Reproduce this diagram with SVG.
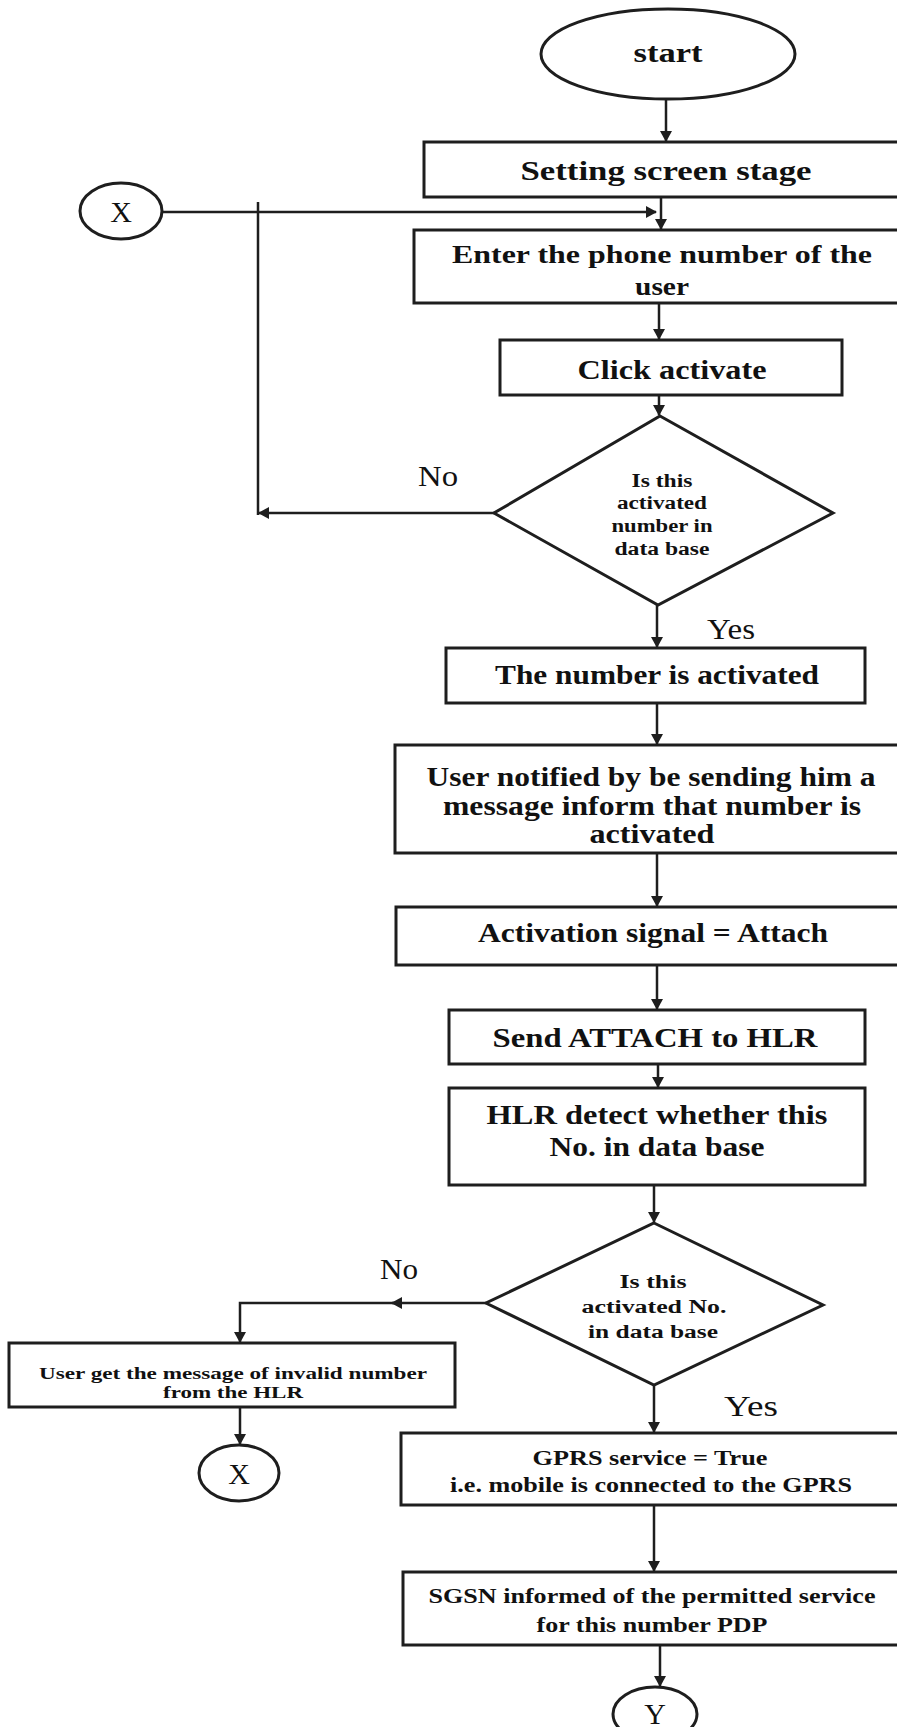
<svg xmlns="http://www.w3.org/2000/svg" width="897" height="1727" viewBox="0 0 897 1727">
<defs>
<marker id="ah" markerWidth="12" markerHeight="12" refX="10" refY="6" orient="auto" markerUnits="userSpaceOnUse">
<path d="M0,0 L11,6 L0,12 Z" fill="#1e1e1e"/>
</marker>
<style>
.sh{fill:#fff;stroke:#1e1e1e;stroke-width:3}
.cn{fill:none;stroke:#1e1e1e;stroke-width:2.5}
.ca{fill:none;stroke:#1e1e1e;stroke-width:2.5;marker-end:url(#ah)}
text{font-family:"Liberation Serif","Times New Roman",serif;fill:#111;text-anchor:middle;font-weight:bold}
.b{font-size:28px}
.b2{font-size:26px}
.m{font-size:22px}
.d{font-size:18px}
.s{font-size:17px}
.lb{font-size:30px;font-weight:normal}
.cx{font-size:30px;font-weight:normal}
</style>
</defs>
<rect width="897" height="1727" fill="#fff"/>

<g id="connectors">
<path class="ca" d="M666,98 V141"/>
<path class="ca" d="M661,197 V229"/>
<path class="ca" d="M163,212 H656"/>
<path class="cn" d="M258,202 V515"/>
<path class="ca" d="M494,513 H259"/>
<path class="ca" d="M659,303 V339"/>
<path class="ca" d="M659,395 V415"/>
<path class="ca" d="M657,605 V647"/>
<path class="ca" d="M657,703 V744"/>
<path class="ca" d="M657,853 V906"/>
<path class="ca" d="M657,965 V1009"/>
<path class="ca" d="M658,1064 V1087"/>
<path class="ca" d="M654,1185 V1222"/>
<path class="ca" d="M486,1303 H392"/>
<path class="ca" d="M395,1303 H240 V1342"/>
<path class="ca" d="M240,1407 V1444"/>
<path class="ca" d="M654,1385 V1432"/>
<path class="ca" d="M654,1505 V1571"/>
<path class="ca" d="M660,1645 V1686"/>
</g>

<g id="start">
<ellipse class="sh" cx="668" cy="54" rx="127" ry="45"/>
<text class="b" x="668" y="62" textLength="69" lengthAdjust="spacingAndGlyphs">start</text>
</g>

<g id="setting">
<rect class="sh" x="424" y="142" width="480" height="55"/>
<text class="b" x="666" y="180" textLength="291" lengthAdjust="spacingAndGlyphs">Setting screen stage</text>
</g>

<g id="connX1">
<ellipse class="sh" cx="121" cy="211" rx="41" ry="28"/>
<text class="cx" x="121" y="222">X</text>
</g>

<g id="enter">
<rect class="sh" x="414" y="230" width="490" height="73"/>
<text class="b2" x="662" y="263" textLength="420" lengthAdjust="spacingAndGlyphs">Enter the phone number of the</text>
<text class="b2" x="662" y="295" textLength="54" lengthAdjust="spacingAndGlyphs">user</text>
</g>

<g id="click">
<rect class="sh" x="500" y="340" width="342" height="55"/>
<text class="b" x="672" y="379" textLength="189" lengthAdjust="spacingAndGlyphs">Click activate</text>
</g>

<g id="decision1">
<polygon class="sh" points="660,416 833,513 658,605 494,513"/>
<text class="d" x="662" y="487" textLength="61" lengthAdjust="spacingAndGlyphs">Is this</text>
<text class="d" x="662" y="509" textLength="90" lengthAdjust="spacingAndGlyphs">activated</text>
<text class="d" x="662" y="532" textLength="101" lengthAdjust="spacingAndGlyphs">number in</text>
<text class="d" x="662" y="555" textLength="95" lengthAdjust="spacingAndGlyphs">data base</text>
</g>
<text class="lb" x="438" y="486" textLength="40" lengthAdjust="spacingAndGlyphs">No</text>
<text class="lb" x="731" y="639" textLength="48" lengthAdjust="spacingAndGlyphs">Yes</text>

<g id="activated">
<rect class="sh" x="446" y="648" width="419" height="55"/>
<text class="b" x="657" y="684" textLength="324" lengthAdjust="spacingAndGlyphs">The number is activated</text>
</g>

<g id="notified">
<rect class="sh" x="395" y="745" width="510" height="108"/>
<text class="b" x="651" y="786" textLength="449" lengthAdjust="spacingAndGlyphs">User notified by be sending him a</text>
<text class="b" x="652" y="815" textLength="418" lengthAdjust="spacingAndGlyphs">message inform that number is</text>
<text class="b" x="652" y="843" textLength="125" lengthAdjust="spacingAndGlyphs">activated</text>
</g>

<g id="signal">
<rect class="sh" x="396" y="907" width="510" height="58"/>
<text class="b" x="653" y="942" textLength="350" lengthAdjust="spacingAndGlyphs">Activation signal = Attach</text>
</g>

<g id="send">
<rect class="sh" x="449" y="1010" width="416" height="54"/>
<text class="b" x="655" y="1047" textLength="325" lengthAdjust="spacingAndGlyphs">Send ATTACH to HLR</text>
</g>

<g id="detect">
<rect class="sh" x="449" y="1088" width="416" height="97"/>
<text class="b" x="657" y="1124" textLength="341" lengthAdjust="spacingAndGlyphs">HLR detect whether  this</text>
<text class="b" x="657" y="1156" textLength="215" lengthAdjust="spacingAndGlyphs">No. in data base</text>
</g>

<g id="decision2">
<polygon class="sh" points="654,1223 823,1305 654,1385 486,1303"/>
<text class="d" x="653" y="1288" textLength="67" lengthAdjust="spacingAndGlyphs">Is this</text>
<text class="d" x="654" y="1313" textLength="145" lengthAdjust="spacingAndGlyphs">activated No.</text>
<text class="d" x="653" y="1338" textLength="130" lengthAdjust="spacingAndGlyphs">in data base</text>
</g>
<text class="lb" x="399" y="1279" textLength="38" lengthAdjust="spacingAndGlyphs">No</text>
<text class="lb" x="751" y="1416" textLength="54" lengthAdjust="spacingAndGlyphs">Yes</text>

<g id="invalid">
<rect class="sh" x="9" y="1343" width="446" height="64"/>
<text class="s" x="233" y="1379" textLength="388" lengthAdjust="spacingAndGlyphs">User get the message of invalid number</text>
<text class="s" x="233" y="1398" textLength="140" lengthAdjust="spacingAndGlyphs">from the HLR</text>
</g>

<g id="connX2">
<ellipse class="sh" cx="239" cy="1473" rx="40" ry="28"/>
<text class="cx" x="239" y="1484">X</text>
</g>

<g id="gprs">
<rect class="sh" x="401" y="1433" width="505" height="72"/>
<text class="m" x="650" y="1465" textLength="235" lengthAdjust="spacingAndGlyphs">GPRS service = True</text>
<text class="m" x="651" y="1492" textLength="402" lengthAdjust="spacingAndGlyphs">i.e. mobile is connected to the GPRS</text>
</g>

<g id="sgsn">
<rect class="sh" x="403" y="1572" width="503" height="73"/>
<text class="m" x="652" y="1603" textLength="447" lengthAdjust="spacingAndGlyphs">SGSN informed of the permitted service</text>
<text class="m" x="652" y="1632" textLength="231" lengthAdjust="spacingAndGlyphs">for this number PDP</text>
</g>

<g id="connY">
<ellipse class="sh" cx="655" cy="1714" rx="42" ry="27"/>
<text class="cx" x="655" y="1724">Y</text>
</g>
</svg>
